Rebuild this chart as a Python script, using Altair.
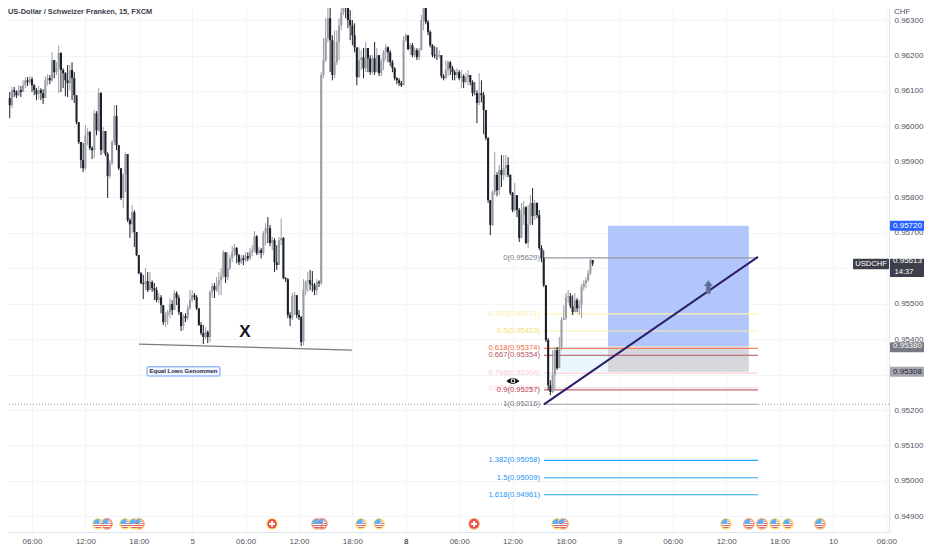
import altair as alt
import pandas as pd

FONT = "Liberation Sans"

# ---- candles: prices in 1/100000 CHF, one entry per 15 minute bar ----
first_bar = -10
first_open = 96080
closes = [96060,96102,96097,96088,96102,96097,96116,96130,96125,96133,96116,96102,96091,96102,96094,96080,96130,96136,96130,96187,
96153,96164,96207,96159,96150,96130,96122,96159,96136,96088,96012,95956,95905,95882,95975,95984,95939,95933,96037,95989,
96094,95933,95987,95922,95860,95896,95956,96029,95947,95882,95798,95863,95922,95736,95724,95758,95702,95637,95586,95558,
95555,95564,95538,95561,95544,95538,95510,95518,95496,95448,95468,95476,95499,95482,95530,95516,95476,95437,95465,95459,
95487,95510,95524,95518,95487,95440,95417,95406,95420,95406,95533,95550,95538,95552,95566,95578,95645,95575,95600,95628,
95645,95657,95637,95617,95628,95623,95634,95628,95645,95651,95690,95643,95651,95643,95699,95713,95713,95671,95679,95617,
95609,95679,95685,95572,95569,95468,95459,95521,95524,95468,95462,95392,95538,95561,95566,95555,95552,95538,95561,95558,
96145,96187,96249,96305,96243,96145,96181,96238,96285,96322,96356,96342,96300,96285,96257,96223,96139,96187,96195,96164,
96221,96192,96153,96192,96153,96201,96150,96181,96209,96223,96209,96181,96164,96136,96130,96122,96116,96243,96257,96218,
96229,96201,96215,96195,96215,96300,96342,96294,96266,96229,96201,96198,96198,96201,96142,96136,96159,96181,96164,96153,
96145,96153,96136,96142,96125,96139,96145,96125,96094,96094,96066,96094,96088,96046,95967,95792,95722,95815,95863,95820,
95877,95863,95882,95891,95863,95812,95764,95806,95764,95685,95750,95772,95671,95724,95784,95747,95784,95750,95657,95628,
95552,95397,95270,95251,95299,95369,95318,95378,95454,95459,95518,95521,95493,95476,95510,95487,95496,95547,95558,95566,
95586,95623,95613]
highs = [96097,96111,96111,96102,96116,96114,96130,96139,96139,96142,96139,96119,96108,96114,96108,96105,96142,96147,96145,96209,
96187,96181,96229,96209,96164,96153,96173,96173,96181,96153,96088,96012,95956,95953,96004,95995,95987,95944,96046,96043,
96108,96097,95998,95987,95927,95905,95961,96060,96060,95947,95882,95868,95927,95826,95741,95778,95764,95702,95637,95589,
95581,95600,95589,95589,95566,95558,95547,95530,95524,95496,95476,95482,95516,95510,95538,95535,95524,95476,95471,95473,
95496,95538,95538,95530,95524,95487,95448,95440,95434,95425,95538,95558,95558,95575,95589,95600,95651,95645,95645,95637,
95662,95668,95660,95640,95637,95637,95645,95645,95657,95665,95705,95693,95660,95657,95705,95727,95744,95722,95688,95685,
95665,95688,95741,95688,95575,95572,95476,95530,95533,95524,95482,95465,95569,95566,95589,95595,95592,95558,95569,95566,
96153,96249,96305,96356,96356,96257,96271,96271,96305,96342,96364,96364,96350,96328,96300,96291,96223,96223,96215,96221,
96238,96215,96201,96201,96238,96221,96201,96192,96215,96232,96226,96215,96187,96167,96139,96136,96128,96254,96263,96257,
96235,96235,96223,96221,96221,96314,96350,96350,96300,96271,96232,96226,96223,96215,96201,96147,96187,96187,96184,96170,
96159,96164,96159,96159,96147,96150,96159,96145,96130,96125,96102,96150,96130,96097,96046,95970,95792,95820,95927,95871,
95891,95919,95919,95919,95913,95865,95815,95840,95806,95770,95784,95789,95775,95778,95806,95826,95792,95786,95764,95665,
95651,95552,95403,95284,95369,95378,95378,95406,95462,95496,95530,95538,95530,95524,95530,95516,95510,95555,95566,95575,
95595,95631,95623]
lows = [96023,96052,96083,96080,96085,96083,96097,96108,96114,96119,96097,96088,96074,96077,96074,96063,96080,96116,96119,96125,
96136,96145,96094,96097,96108,96085,96083,96102,96074,96066,96006,95950,95882,95871,95877,95947,95933,95908,95911,95975,
95984,95919,95925,95916,95798,95854,95891,95947,95933,95877,95792,95769,95815,95730,95685,95699,95660,95634,95583,95555,
95513,95538,95533,95538,95533,95510,95504,95501,95473,95440,95434,95440,95459,95468,95482,95496,95468,95423,95425,95448,
95454,95482,95504,95510,95482,95437,95411,95386,95400,95389,95392,95516,95516,95533,95524,95524,95572,95558,95566,95595,
95617,95634,95614,95609,95612,95609,95617,95620,95623,95634,95645,95637,95637,95628,95637,95665,95671,95662,95651,95589,
95595,95609,95665,95569,95561,95459,95437,95454,95468,95459,95454,95380,95383,95524,95533,95538,95533,95524,95524,95547,
95552,96136,96181,96238,96153,96130,96136,96173,96187,96271,96314,96305,96277,96243,96229,96209,96116,96136,96159,96136,
96153,96153,96145,96147,96145,96153,96142,96142,96159,96187,96181,96170,96153,96130,96119,96114,96111,96119,96238,96215,
96201,96195,96195,96187,96187,96215,96271,96288,96257,96223,96195,96192,96187,96192,96136,96130,96133,96142,96145,96130,
96130,96136,96130,96108,96108,96122,96116,96116,96085,96088,96009,96060,96068,95978,95961,95784,95693,95719,95806,95803,
95806,95829,95848,95857,95857,95806,95758,95758,95744,95674,95713,95722,95668,95657,95722,95722,95736,95741,95651,95617,
95547,95392,95256,95242,95248,95256,95313,95318,95369,95454,95454,95502,95487,95468,95476,95476,95468,95459,95538,95544,
95561,95581,95606]

# ---- axes ----
price_ticks = [0.949,0.950,0.951,0.952,0.953,0.954,0.955,0.956,0.957,0.958,0.959,0.960,0.961,0.962,0.963]
time_labels = ["06:00","12:00","18:00","5","06:00","12:00","18:00","8","06:00","12:00","18:00","9","06:00","12:00","18:00","10","06:00"]
bars_per_tick = 24

# ---- fibonacci levels ----
fib_names = ["0","0.382","0.5","0.618","0.667","0.786","0.886","0.9","1","1.382","1.5","1.618"]
fib_prices = [0.95629,0.95471,0.95423,0.95374,0.95354,0.95304,0.95263,0.95257,0.95216,0.95058,0.95009,0.94961]
fib_line_colors = ["#9598a1","#fff3b8","#fbeeaa","#f5825a","#c2707c","#f9d2da","#fbdde3","#c4606f","#b2b5be","#29a5f5","#29a5f5","#29a5f5"]
fib_text_colors = ["#787b86","#fdeea6","#f6dc6a","#f2693f","#b8505e","#f8c8d4","#fbd8e0","#b53f52","#787b86","#2196f3","#2196f3","#2196f3"]

# ---- events ----
event_bars = [354.2,339.8,333.9,328.1,322.2,311.9,238.7,236,198.7,156,147.9,130.3,128.1,107.9,48.1,45.8,41.8,33.7,29.66]
event_kind = ["us","us","us","us","us","us","us","us","ch","us","us","us","us","ch","us","us","us","us","us"]
event_ring = ["#f6b26b","#fbe36a","#fbe36a","#f6a56b","#f6a56b","#fbe36a","#f6a56b","#fbe36a","#f6a56b","#fbe36a","#fbe36a","#ee8a70","#f6a56b","#fbe36a","#f6a56b","#fbe36a","#fbe36a","#ee8a70","#fbe36a"]
event_price = 0.94879

# ---- tags on the price scale ----
tag_labels = ["0.95720","0.95613","0.95380","0.95308"]
tag_top = [0.95734,0.95627,0.95391,0.95322]
tag_bottom = [0.95706,0.95575,0.95363,0.95294]
tag_fill = ["#2962ff","#3d404b","#777a85","#a6a8b0"]
tag_text = ["#ffffff","#ffffff","#ffffff","#1f2230"]

opens = [first_open] + closes[:-1]
n = len(closes)
candles = pd.DataFrame({
    "bar": [first_bar + i for i in range(n)],
    "o": [v / 100000 for v in opens],
    "c": [v / 100000 for v in closes],
    "h": [v / 100000 for v in highs[:n]],
    "l": [v / 100000 for v in lows[:n]],
})
candles["dir"] = ["up" if c > o else "down" for o, c in zip(candles.o, candles.c)]

xs = alt.Scale(domain=[-10.79, 385.2], nice=False, zero=False, padding=0)
ys = alt.Scale(domain=[0.94856, 0.96334], nice=False, zero=False, padding=0)
cs = alt.Scale(domain=["up", "down"], range=["#9a9ca4", "#1c202b"])

grid_color = "#f3f4f6"
axis_text = "#50535e"
x_axis = alt.Axis(
    values=[k * bars_per_tick for k in range(len(time_labels))],
    labelExpr="%s[round(datum.value/%d)]" % (str(time_labels), bars_per_tick),
    title=None, grid=True, gridColor=grid_color, gridWidth=1, ticks=False, labelPadding=5,
    domainColor="#e0e3eb", labelFont=FONT, labelFontSize=8, labelColor=axis_text,
    labelOverlap=False, labelFlush=False, labelBound=False,
    labelFontWeight={"condition": {"test": "datum.value === 168", "value": "bold"}, "value": "normal"},
)
y_axis = alt.Axis(
    values=price_ticks,
    labelExpr="abs(datum.value-0.956)<0.0001 || abs(datum.value-0.953)<0.0001 ? '' : format(datum.value,'.5f')",
    orient="right", title=None, grid=True, gridColor=grid_color,
    ticks=False, labelPadding=5, domainColor="#e0e3eb", labelFont=FONT, labelFontSize=8,
    labelColor=axis_text, labelOverlap=False, labelFlush=False, labelBound=False,
)

def X(f):
    return alt.X(f, type="quantitative", scale=xs, axis=x_axis)

def Y(f):
    return alt.Y(f, type="quantitative", scale=ys, axis=y_axis)

layers = []

# position boxes and pale zone
zones = pd.DataFrame({
    "x1": [237.3, 258.9, 258.9], "x2": [258.9, 322.2, 322.2],
    "p1": [0.95380, 0.95720, 0.95380], "p2": [0.95308, 0.95380, 0.95308],
    "fill": ["#eaf6fc", "#b3c6fb", "#d6d7dd"],
})
layers.append(alt.Chart(zones).mark_rect().encode(
    x=X("x1:Q"), x2="x2:Q", y=Y("p1:Q"), y2="p2:Q",
    color=alt.Color("fill:N", scale=None)))

# dotted last level
layers.append(alt.Chart(pd.DataFrame({"p": [0.95216]})).mark_rule(
    strokeDash=[1, 2], color="#9598a1", strokeWidth=1).encode(y=Y("p:Q")))

# fib lines and labels
fib = pd.DataFrame({
    "p": fib_prices, "line": fib_line_colors, "tc": fib_text_colors,
    "label": ["%s(%.5f)" % (a, b) for a, b in zip(fib_names, fib_prices)],
    "x1": [230.1] * len(fib_prices), "x2": [326.3] * len(fib_prices), "xt": [228.3] * len(fib_prices),
})
layers.append(alt.Chart(fib).mark_rule(strokeWidth=1.2).encode(
    x=X("x1:Q"), x2="x2:Q", y=Y("p:Q"), color=alt.Color("line:N", scale=None)))
layers.append(alt.Chart(fib).mark_text(align="right", baseline="middle", font=FONT, fontSize=7.6).encode(
    x=X("xt:Q"), y=Y("p:Q"), text="label:N", color=alt.Color("tc:N", scale=None)))

# candles
layers.append(alt.Chart(candles).mark_rule(strokeWidth=1, clip=True).encode(
    x=X("bar:Q"), y=Y("h:Q"), y2="l:Q", color=alt.Color("dir:N", scale=cs, legend=None)))
layers.append(alt.Chart(candles).mark_bar(size=2.1, clip=True).encode(
    x=X("bar:Q"), y=Y("o:Q"), y2="c:Q", color=alt.Color("dir:N", scale=cs, legend=None)))

# trend line and arrow
trend = pd.DataFrame({"x": [230.1, 326.3], "p": [0.95216, 0.95632]})
layers.append(alt.Chart(trend).mark_line(color="#2c1f6b", strokeWidth=2).encode(x=X("x:Q"), y=Y("p:Q")))
layers.append(alt.Chart(pd.DataFrame({"x": [304], "p": [0.95547]})).mark_point(
    shape="M0,-1.5 L1,-0.2 L0.5,-0.2 L0.5,1.5 L-0.5,1.5 L-0.5,-0.2 L-1,-0.2 Z",
    filled=True, size=81, color="#5f6f92", opacity=1).encode(x=X("x:Q"), y=Y("p:Q")))

# equal lows line, X, note
lows_line = pd.DataFrame({"x": [48.1, 143.8], "p": [0.95386, 0.95369]})
layers.append(alt.Chart(lows_line).mark_line(color="#787b86", strokeWidth=1.3).encode(x=X("x:Q"), y=Y("p:Q")))
layers.append(alt.Chart(pd.DataFrame({"x": [95.7], "p": [0.95420], "t": ["X"]})).mark_text(
    font=FONT, fontWeight="bold", fontSize=17, color="#131722", baseline="middle").encode(
    x=X("x:Q"), y=Y("p:Q"), text="t:N"))
note = pd.DataFrame({"x1": [51.7], "x2": [84.5], "p1": [0.95322], "p2": [0.95296],
                     "xm": [68.1], "pm": [0.95309], "t": ["Equal Lows Genommen"]})
layers.append(alt.Chart(note).mark_rect(fill="#f3f6ff", stroke="#6c9cff", strokeWidth=1, cornerRadius=1).encode(
    x=X("x1:Q"), x2="x2:Q", y=Y("p1:Q"), y2="p2:Q"))
layers.append(alt.Chart(note).mark_text(font=FONT, fontWeight="bold", fontSize=6, color="#1f2a44", baseline="middle").encode(
    x=X("xm:Q"), y=Y("pm:Q"), text="t:N"))

# eye
eye = pd.DataFrame({"x": [216.2], "p": [0.95282]})
layers.append(alt.Chart(eye).mark_point(shape="M-1,0 Q0,-0.95 1,0 Q0,0.95 -1,0 Z", filled=True, size=169,
                                        color="#131722", opacity=1).encode(x=X("x:Q"), y=Y("p:Q")))
layers.append(alt.Chart(eye).mark_point(shape="circle", filled=True, size=22, color="#ffffff", opacity=1).encode(x=X("x:Q"), y=Y("p:Q")))
layers.append(alt.Chart(eye).mark_point(shape="circle", filled=True, size=8, color="#131722", opacity=1).encode(x=X("x:Q"), y=Y("p:Q")))

# event badges
events = pd.DataFrame({"x": event_bars, "kind": event_kind, "ring": event_ring, "p": [event_price] * len(event_bars)})
us = events[events.kind == "us"]
ch = events[events.kind == "ch"]
layers.append(alt.Chart(events).mark_point(shape="circle", filled=True, size=105, fill="#ffffff", strokeWidth=1.4, opacity=1).encode(
    x=X("x:Q"), y=Y("p:Q"), stroke=alt.Stroke("ring:N", scale=None)))
layers.append(alt.Chart(us).mark_point(
    shape="M-1,0.05 A1,1 0 0 1 0.3,-0.95 L0.3,0.05 Z", filled=True, size=90, color="#62b0f0", opacity=1).encode(x=X("x:Q"), y=Y("p:Q")))
layers.append(alt.Chart(us).mark_point(
    shape="M-0.97,0.25 L0.97,0.25 L0.87,0.48 L-0.87,0.48 Z M-0.72,0.68 L0.72,0.68 L0.45,0.88 L-0.45,0.88 Z M0.4,-0.75 L0.72,-0.55 L0.8,-0.42 L0.4,-0.42 Z M0.4,-0.2 L0.97,-0.2 L0.98,0.02 L0.4,0.02 Z",
    filled=True, size=90, color="#e2646a", opacity=1).encode(x=X("x:Q"), y=Y("p:Q")))
layers.append(alt.Chart(ch).mark_point(shape="circle", filled=True, size=90, color="#ea4a4a", opacity=1).encode(x=X("x:Q"), y=Y("p:Q")))
layers.append(alt.Chart(ch).mark_point(
    shape="M-0.22,-0.62 L0.22,-0.62 L0.22,-0.22 L0.62,-0.22 L0.62,0.22 L0.22,0.22 L0.22,0.62 L-0.22,0.62 L-0.22,0.22 L-0.62,0.22 L-0.62,-0.22 L-0.22,-0.22 Z",
    filled=True, size=90, color="#ffffff", opacity=1).encode(x=X("x:Q"), y=Y("p:Q")))

# price scale tags
tags = pd.DataFrame({"label": tag_labels, "p1": tag_top, "p2": tag_bottom, "fill": tag_fill, "tc": tag_text})
tags["pt"] = [0.9572, 0.95620, 0.95380, 0.95308]
layers.append(alt.Chart(tags).mark_rect(cornerRadius=1).encode(
    x=alt.value(882), x2=alt.value(921), y=Y("p1:Q"), y2="p2:Q", color=alt.Color("fill:N", scale=None)))
layers.append(alt.Chart(tags).mark_text(font=FONT, fontSize=8, baseline="middle").encode(
    x=alt.value(899.5), y=Y("pt:Q"), text="label:N", color=alt.Color("tc:N", scale=None)))
sym = pd.DataFrame({"p1": [0.95627], "p2": [0.95597], "pt": [0.95612], "t": ["USDCHF"]})
layers.append(alt.Chart(sym).mark_rect(color="#3d404b", cornerRadius=1).encode(
    x=alt.value(845), x2=alt.value(881), y=Y("p1:Q"), y2="p2:Q"))
layers.append(alt.Chart(sym).mark_text(font=FONT, fontSize=7.6, color="#ffffff", baseline="middle").encode(
    x=alt.value(863), y=Y("pt:Q"), text="t:N"))
layers.append(alt.Chart(pd.DataFrame({"pt": [0.95589], "t": ["14:37"]})).mark_text(
    font=FONT, fontSize=7.6, color="#ffffff", baseline="middle").encode(x=alt.value(896), y=Y("pt:Q"), text="t:N"))

# title and currency
layers.append(alt.Chart(pd.DataFrame({"t": ["US-Dollar / Schweizer Franken, 15, FXCM"]})).mark_text(
    font=FONT, fontSize=7.4, fontWeight="bold", color="#3a3e49", align="left", baseline="middle").encode(
    x=alt.value(0), y=alt.value(4), text="t:N"))
layers.append(alt.Chart(pd.DataFrame({"t": ["CHF"]})).mark_text(
    font=FONT, fontSize=8, color=axis_text, align="left", baseline="middle").encode(
    x=alt.value(886), y=alt.value(4), text="t:N"))

chart = alt.layer(*layers).properties(
    width=881, height=524,
    autosize=alt.AutoSizeParams(type="none"),
    padding={"left": 0, "top": 0, "right": 35, "bottom": 17},
    background="#ffffff",
).configure_view(stroke=None)

chart.save("out.html", embed_options={"renderer": "svg", "actions": False})
